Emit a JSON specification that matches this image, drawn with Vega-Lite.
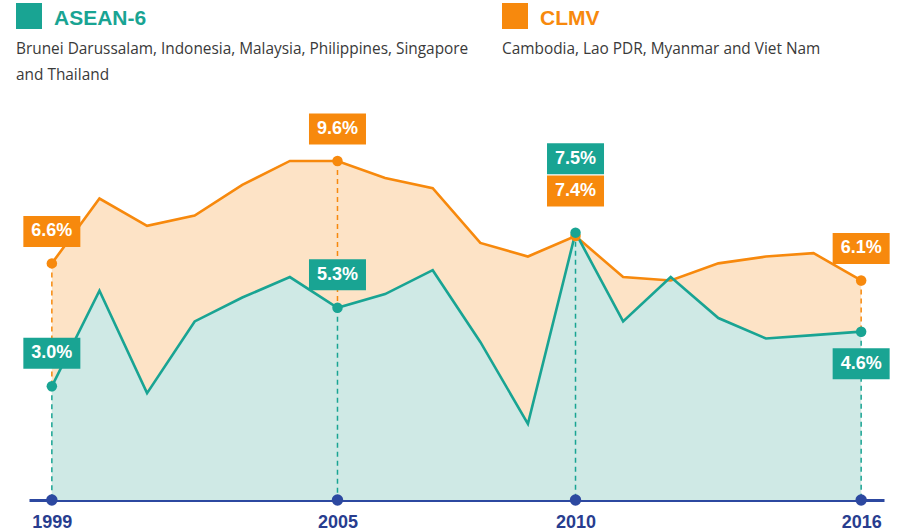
{
  "$schema": "https://vega.github.io/schema/vega-lite/v6.json",
  "width": 855,
  "height": 421,
  "autosize": {"type": "none"},
  "padding": {"left": 29, "top": 79, "right": 17, "bottom": 32},
  "background": "#ffffff",
  "config": {"view": {"stroke": null}},
  "layer": [
    {
      "data": {
        "values": [
          {"year": 1999, "ASEAN": 3.0, "CLMV": 6.6},
          {"year": 2000, "ASEAN": 5.8, "CLMV": 8.5},
          {"year": 2001, "ASEAN": 2.8, "CLMV": 7.7},
          {"year": 2002, "ASEAN": 4.9, "CLMV": 8.0},
          {"year": 2003, "ASEAN": 5.6, "CLMV": 8.9},
          {"year": 2004, "ASEAN": 6.2, "CLMV": 9.6},
          {"year": 2005, "ASEAN": 5.3, "CLMV": 9.6},
          {"year": 2006, "ASEAN": 5.7, "CLMV": 9.1},
          {"year": 2007, "ASEAN": 6.4, "CLMV": 8.8},
          {"year": 2008, "ASEAN": 4.3, "CLMV": 7.2},
          {"year": 2009, "ASEAN": 1.9, "CLMV": 6.8},
          {"year": 2010, "ASEAN": 7.5, "CLMV": 7.4},
          {"year": 2011, "ASEAN": 4.9, "CLMV": 6.2},
          {"year": 2012, "ASEAN": 6.2, "CLMV": 6.1},
          {"year": 2013, "ASEAN": 5.0, "CLMV": 6.6},
          {"year": 2014, "ASEAN": 4.4, "CLMV": 6.8},
          {"year": 2015, "ASEAN": 4.5, "CLMV": 6.9},
          {"year": 2016, "ASEAN": 4.6, "CLMV": 6.1}
        ]
      },
      "encoding": {
        "x": {
          "field": "year",
          "type": "quantitative",
          "scale": {"domain": [1998.52, 2016.48], "nice": false, "zero": false},
          "axis": {
            "values": [1999, 2005, 2010, 2016],
            "format": "d",
            "title": null,
            "grid": false,
            "ticks": false,
            "domainColor": "#2c48a0",
            "domainWidth": 3,
            "labelFont": "Liberation Sans",
            "labelFontWeight": "bold",
            "labelFontSize": 18,
            "labelColor": "#283d8f",
            "labelPadding": 13,
            "labelFlush": false,
            "labelOverlap": false
          }
        }
      },
      "layer": [
        {
          "mark": {"type": "area", "color": "#fde3c6", "opacity": 1},
          "encoding": {
            "y": {"field": "CLMV", "type": "quantitative", "scale": {"domain": [-0.33, 12], "nice": false, "zero": false}, "axis": null},
            "y2": {"datum": -0.33}
          }
        },
        {
          "mark": {"type": "area", "color": "#cfe9e5", "opacity": 1},
          "encoding": {
            "y": {"field": "ASEAN", "type": "quantitative", "scale": {"domain": [-0.33, 12], "nice": false, "zero": false}, "axis": null},
            "y2": {"datum": -0.33}
          }
        },
        {
          "transform": [{"filter": {"field": "year", "oneOf": [1999, 2005, 2010, 2016]}}],
          "mark": {"type": "rule", "color": "#19a493", "strokeWidth": 1.5, "strokeDash": [5, 4]},
          "encoding": {
            "y": {"field": "ASEAN", "type": "quantitative", "scale": {"domain": [-0.33, 12], "nice": false, "zero": false}, "axis": null},
            "y2": {"datum": -0.33}
          }
        },
        {
          "transform": [{"filter": {"field": "year", "oneOf": [1999, 2005, 2010, 2016]}}],
          "mark": {"type": "rule", "color": "#f7890d", "strokeWidth": 1.5, "strokeDash": [5, 4]},
          "encoding": {
            "y": {"field": "CLMV", "type": "quantitative", "scale": {"domain": [-0.33, 12], "nice": false, "zero": false}, "axis": null},
            "y2": {"field": "ASEAN"}
          }
        },
        {
          "mark": {"type": "line", "color": "#f7890d", "strokeWidth": 2.6},
          "encoding": {
            "y": {"field": "CLMV", "type": "quantitative", "scale": {"domain": [-0.33, 12], "nice": false, "zero": false}, "axis": null}
          }
        },
        {
          "mark": {"type": "line", "color": "#19a493", "strokeWidth": 2.6},
          "encoding": {
            "y": {"field": "ASEAN", "type": "quantitative", "scale": {"domain": [-0.33, 12], "nice": false, "zero": false}, "axis": null}
          }
        },
        {
          "transform": [{"filter": {"field": "year", "oneOf": [1999, 2005, 2010, 2016]}}],
          "mark": {"type": "point", "filled": true, "opacity": 1, "size": 110, "color": "#f7890d"},
          "encoding": {
            "y": {"field": "CLMV", "type": "quantitative", "scale": {"domain": [-0.33, 12], "nice": false, "zero": false}, "axis": null}
          }
        },
        {
          "transform": [{"filter": {"field": "year", "oneOf": [1999, 2005, 2010, 2016]}}],
          "mark": {"type": "point", "filled": true, "opacity": 1, "size": 110, "color": "#19a493"},
          "encoding": {
            "y": {"field": "ASEAN", "type": "quantitative", "scale": {"domain": [-0.33, 12], "nice": false, "zero": false}, "axis": null}
          }
        },
        {
          "transform": [{"filter": {"field": "year", "oneOf": [1999, 2005, 2010, 2016]}}],
          "mark": {"type": "point", "filled": true, "opacity": 1, "size": 130, "color": "#2c48a0"},
          "encoding": {
            "y": {"datum": -0.33, "type": "quantitative", "scale": {"domain": [-0.33, 12], "nice": false, "zero": false}, "axis": null}
          }
        },
        {
          "transform": [{"filter": {"field": "year", "oneOf": [1999, 2005, 2010, 2016]}}],
          "mark": {"type": "point", "filled": true, "opacity": 1, "strokeWidth": 0, "size": 3249, "shape": "M-1,-0.544H1V0.544H-1Z", "color": "#f7890d", "yOffset": {"expr": "datum.year === 2010 ? -45 : -32"}},
          "encoding": {
            "y": {"field": "CLMV", "type": "quantitative", "scale": {"domain": [-0.33, 12], "nice": false, "zero": false}, "axis": null}
          }
        },
        {
          "transform": [{"filter": {"field": "year", "oneOf": [1999, 2005, 2010, 2016]}}],
          "mark": {"type": "text", "color": "#ffffff", "font": "Liberation Sans", "fontWeight": "bold", "fontSize": 18, "align": "center", "baseline": "middle", "yOffset": {"expr": "datum.year === 2010 ? -45 : -32"}, "text": {"expr": "format(datum.CLMV, '.1f') + '%'"}},
          "encoding": {
            "y": {"field": "CLMV", "type": "quantitative", "scale": {"domain": [-0.33, 12], "nice": false, "zero": false}, "axis": null}
          }
        },
        {
          "transform": [{"filter": {"field": "year", "oneOf": [1999, 2005, 2010, 2016]}}],
          "mark": {"type": "point", "filled": true, "opacity": 1, "strokeWidth": 0, "size": 3249, "shape": "M-1,-0.544H1V0.544H-1Z", "color": "#19a493", "yOffset": {"expr": "datum.year === 2010 ? -74 : (datum.year === 2016 ? 32 : -33)"}},
          "encoding": {
            "y": {"field": "ASEAN", "type": "quantitative", "scale": {"domain": [-0.33, 12], "nice": false, "zero": false}, "axis": null}
          }
        },
        {
          "transform": [{"filter": {"field": "year", "oneOf": [1999, 2005, 2010, 2016]}}],
          "mark": {"type": "text", "color": "#ffffff", "font": "Liberation Sans", "fontWeight": "bold", "fontSize": 18, "align": "center", "baseline": "middle", "yOffset": {"expr": "datum.year === 2010 ? -74 : (datum.year === 2016 ? 32 : -33)"}, "text": {"expr": "format(datum.ASEAN, '.1f') + '%'"}},
          "encoding": {
            "y": {"field": "ASEAN", "type": "quantitative", "scale": {"domain": [-0.33, 12], "nice": false, "zero": false}, "axis": null}
          }
        }
      ]
    },
    {
      "data": {
        "values": [
          {"group": "ASEAN-6", "kind": "name", "text": "ASEAN-6"},
          {"group": "ASEAN-6", "kind": "desc1", "text": "Brunei Darussalam, Indonesia, Malaysia, Philippines, Singapore"},
          {"group": "ASEAN-6", "kind": "desc2", "text": "and Thailand"},
          {"group": "CLMV", "kind": "name", "text": "CLMV"},
          {"group": "CLMV", "kind": "desc1", "text": "Cambodia, Lao PDR, Myanmar and Viet Nam"}
        ]
      },
      "encoding": {
        "x": {"field": "group", "type": "nominal", "scale": {"type": "point", "range": [0, 486], "padding": 0}, "axis": null},
        "y": {"field": "kind", "type": "nominal", "scale": {"type": "point", "domain": ["name", "desc1", "desc2"], "range": [-51, 1], "padding": 0}, "axis": null}
      },
      "layer": [
        {
          "transform": [{"filter": "datum.kind === 'name'"}],
          "mark": {"type": "point", "shape": "square", "filled": true, "opacity": 1, "size": 676, "yOffset": -12},
          "encoding": {
            "color": {"field": "group", "type": "nominal", "scale": {"domain": ["ASEAN-6", "CLMV"], "range": ["#19a493", "#f7890d"]}, "legend": null}
          }
        },
        {
          "transform": [{"filter": "datum.kind === 'name'"}],
          "mark": {"type": "text", "align": "left", "baseline": "alphabetic", "dx": 25, "yOffset": -3, "font": "Liberation Sans", "fontWeight": "bold", "fontSize": 21},
          "encoding": {
            "text": {"field": "text"},
            "color": {"field": "group", "type": "nominal", "scale": {"domain": ["ASEAN-6", "CLMV"], "range": ["#19a493", "#f7890d"]}, "legend": null}
          }
        },
        {
          "transform": [{"filter": "datum.kind !== 'name'"}],
          "mark": {"type": "text", "align": "left", "baseline": "alphabetic", "dx": -13, "font": "Open Sans", "fontSize": 15.4, "color": "#3a3a3a"},
          "encoding": {
            "text": {"field": "text"}
          }
        }
      ]
    }
  ],
  "resolve": {"scale": {"x": "independent", "y": "independent"}}
}
